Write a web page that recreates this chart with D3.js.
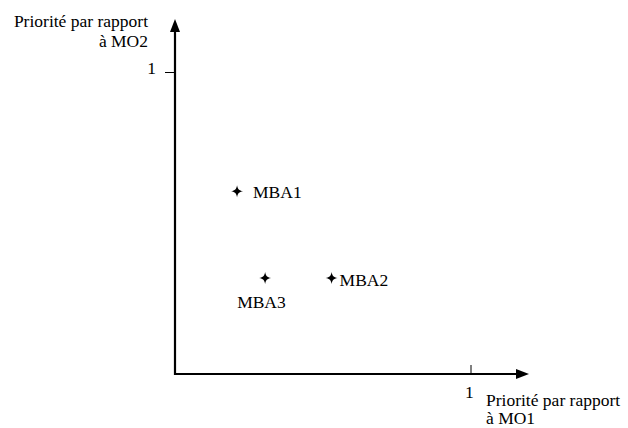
<!DOCTYPE html>
<html><head><meta charset="utf-8">
<script src="https://cdn.jsdelivr.net/npm/d3@7"></script>
<style>body{margin:0;background:#fff}svg{display:block}</style>
</head><body>
<svg id="c" width="628" height="428"></svg>
<script>
const names = ["MBA1", "MBA2", "MBA3"];
const mo1 = [0.21, 0.53, 0.305];
const mo2 = [0.605, 0.318, 0.318];
const xTicks = [1];
const yTicks = [1];
const xTitle = ["Priorité par rapport", "à MO1"];
const yTitle = ["Priorité par rapport", "à MO2"];

const FF = '"Liberation Serif"';
const svg = d3.select("#c");
const fs = 17.5;
const x = d3.scaleLinear().domain([0, 1]).range([175, 470.5]);
const y = d3.scaleLinear().domain([0, 1]).range([374, 72]);

// axes lines with arrows
svg.append("line").attr("x1", x(0)).attr("y1", y(0) + 1).attr("x2", x(0)).attr("y2", 30)
  .attr("stroke", "#000").attr("stroke-width", 2.2);
svg.append("path").attr("d", `M${x(0)},19 L${x(0)-5},32 L${x(0)+5},32 Z`).attr("fill", "#000");
svg.append("line").attr("x1", x(0) - 1).attr("y1", y(0)).attr("x2", 518).attr("y2", y(0))
  .attr("stroke", "#000").attr("stroke-width", 2.2);
svg.append("path").attr("d", `M529,${y(0)} L516,${y(0)-5} L516,${y(0)+5} Z`).attr("fill", "#000");

// y tick
const ya = svg.append("g").attr("transform", `translate(${x(0)},0)`)
  .call(d3.axisLeft(y).tickValues(yTicks).tickFormat(d3.format("d")).tickSize(10).tickPadding(9));
ya.select(".domain").remove();
ya.selectAll(".tick line").attr("stroke", "#000").attr("stroke-width", 1);
ya.selectAll(".tick text").style("font-family", FF).attr("font-size", fs).attr("fill", "#000").attr("dy", "0.1em");

// x tick
const xa = svg.append("g").attr("transform", `translate(0,${y(0)})`)
  .call(d3.axisBottom(x).tickValues(xTicks).tickFormat(d3.format("d")).tickSizeInner(-9).tickSizeOuter(0).tickPadding(12));
xa.select(".domain").remove();
xa.selectAll(".tick line").attr("stroke", "#000").attr("stroke-width", 1);
xa.selectAll(".tick text").style("font-family", FF).attr("font-size", fs).attr("fill", "#000").attr("dx", "-0.1em");

// titles
svg.append("text").attr("text-anchor", "end").attr("font-size", fs).style("font-family", FF)
  .selectAll("tspan").data(yTitle).join("tspan")
  .attr("x", 148).attr("y", (d, i) => 27 + i * 20).text(d => d);
svg.append("text").attr("text-anchor", "start").attr("font-size", fs).style("font-family", FF)
  .selectAll("tspan").data(xTitle).join("tspan")
  .attr("x", 486).attr("y", (d, i) => 406 + i * 18).text(d => d);

// stars
const star = "M0,-6 C0.8,-1.8 1.8,-0.8 6,0 C1.8,0.8 0.8,1.8 0,6 C-0.8,1.8 -1.8,0.8 -6,0 C-1.8,-0.8 -0.8,-1.8 0,-6 Z";
const pts = names.map((n, i) => ({ n, a: mo1[i], b: mo2[i] }));
svg.selectAll("path.pt").data(pts).join("path").attr("class", "pt")
  .attr("d", star).attr("fill", "#000")
  .attr("transform", d => `translate(${x(d.a)},${y(d.b)})`);

// labels
const lab = { MBA1: [16, 7], MBA2: [8, 8], MBA3: [-28, 30] };
svg.selectAll("text.lbl").data(pts).join("text").attr("class", "lbl")
  .attr("font-size", fs).style("font-family", FF)
  .attr("x", d => x(d.a) + lab[d.n][0]).attr("y", d => y(d.b) + lab[d.n][1])
  .text(d => d.n);
</script>
</body></html>
